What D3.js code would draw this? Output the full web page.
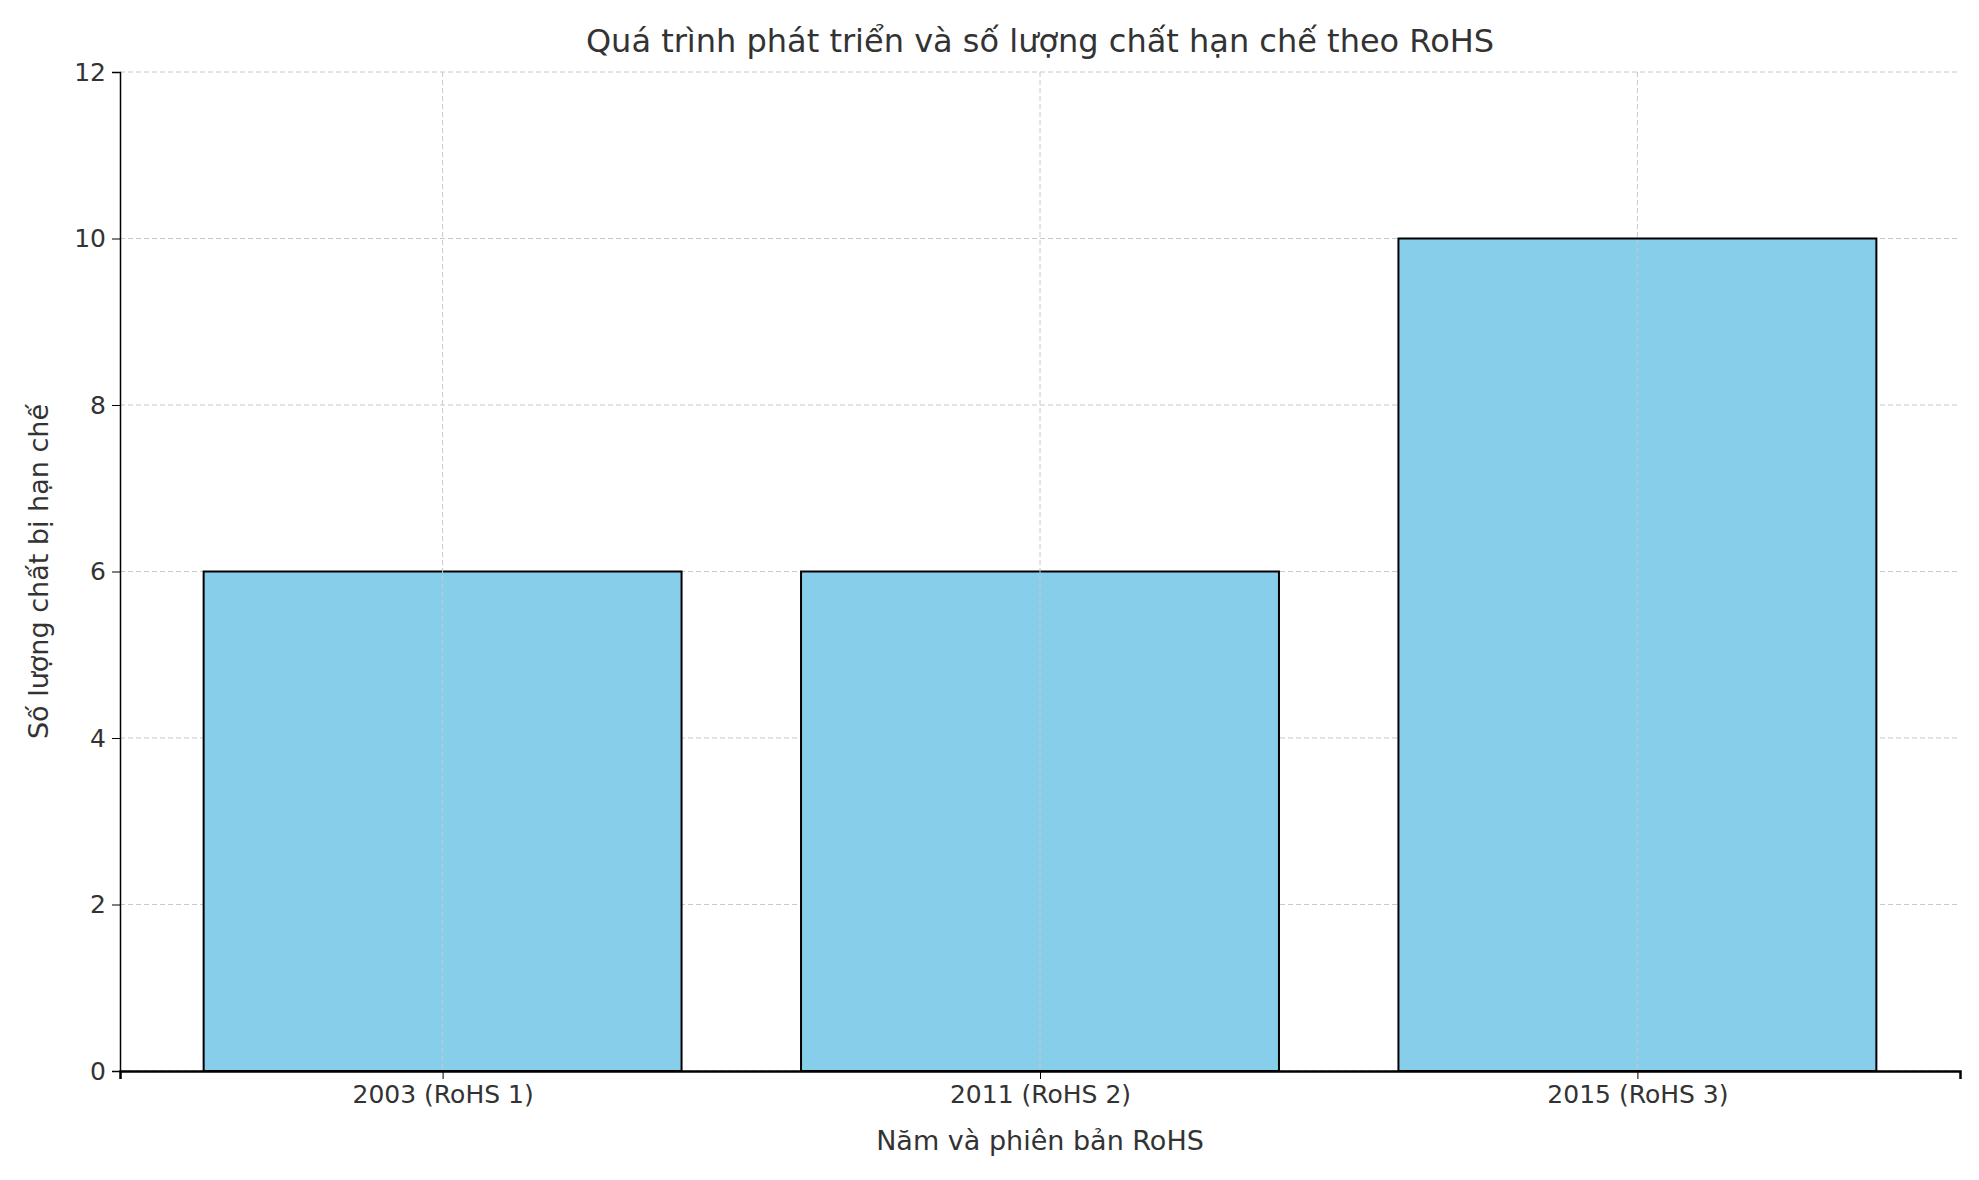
<!DOCTYPE html>
<html><head><meta charset="utf-8">
<script src="https://cdn.jsdelivr.net/npm/d3@7"></script>
<style>body{margin:0;background:#fff}text{font-family:"DejaVu Sans",sans-serif;fill:#333}</style>
</head><body><svg id="c" width="1979" height="1180"></svg>
<script>
const categories = ["2003 (RoHS 1)", "2011 (RoHS 2)", "2015 (RoHS 3)"];
const values = [6, 6, 10];
const yTicks = [0, 2, 4, 6, 8, 10, 12];
const title = "Quá trình phát triển và số lượng chất hạn chế theo RoHS";
const xLabel = "Năm và phiên bản RoHS";
const yLabel = "Số lượng chất bị hạn chế";

const svg = d3.select("#c");
const L = 120, R = 1960, T = 72, B = 1071;
const x = d3.scaleLinear().domain([-0.54, 2.54]).range([L, R]);
const y = d3.scaleLinear().domain([0, 12]).range([B, T]);
const bw = x(0.8) - x(0);

// grid
svg.append("g").selectAll("line").data(yTicks).join("line")
  .attr("x1", L).attr("x2", R).attr("y1", d => y(d)).attr("y2", d => y(d))
  .attr("stroke", "#c8c8c8").attr("stroke-dasharray", "5,3").attr("stroke-width", 1);
// bars
svg.append("g").selectAll("rect").data(values).join("rect")
  .attr("x", (d, i) => x(i) - bw / 2).attr("width", bw)
  .attr("y", d => y(d)).attr("height", d => y(0) - y(d))
  .attr("fill", "#87CEEB").attr("stroke", "#000").attr("stroke-width", 2);
svg.append("g").selectAll("line").data(categories).join("line")
  .attr("x1", (d, i) => x(i)).attr("x2", (d, i) => x(i)).attr("y1", T).attr("y2", B)
  .attr("stroke", "#c8c8c8").attr("stroke-dasharray", "5,3").attr("stroke-width", 1);

// axes
const ya = svg.append("g").attr("transform", `translate(${L},0)`)
  .call(d3.axisLeft(y).tickValues(yTicks).tickSize(8).tickPadding(6));
ya.select(".domain").attr("stroke", "#000").attr("stroke-width", 1.5);
ya.selectAll("text").style("font-size", "25px").style("font-family", "DejaVu Sans").attr("fill", "#222");
const xa = svg.append("g").attr("transform", `translate(0,${B})`)
  .call(d3.axisBottom(x).tickValues([0, 1, 2]).tickFormat(i => categories[i]).tickSize(8).tickPadding(6));
xa.select(".domain").attr("stroke", "#000").attr("stroke-width", 2.5);
xa.selectAll("text").style("font-size", "25px").style("font-family", "DejaVu Sans").attr("fill", "#222");

svg.append("text").attr("x", (L + R) / 2).attr("y", 52).attr("text-anchor", "middle")
  .style("font-size", "32px").text(title);
svg.append("text").attr("x", (L + R) / 2).attr("y", 1150).attr("text-anchor", "middle")
  .style("font-size", "27px").text(xLabel);
svg.append("text").attr("transform", `translate(48,${(T + B) / 2}) rotate(-90)`).attr("text-anchor", "middle")
  .style("font-size", "27px").text(yLabel);
</script></body></html>
